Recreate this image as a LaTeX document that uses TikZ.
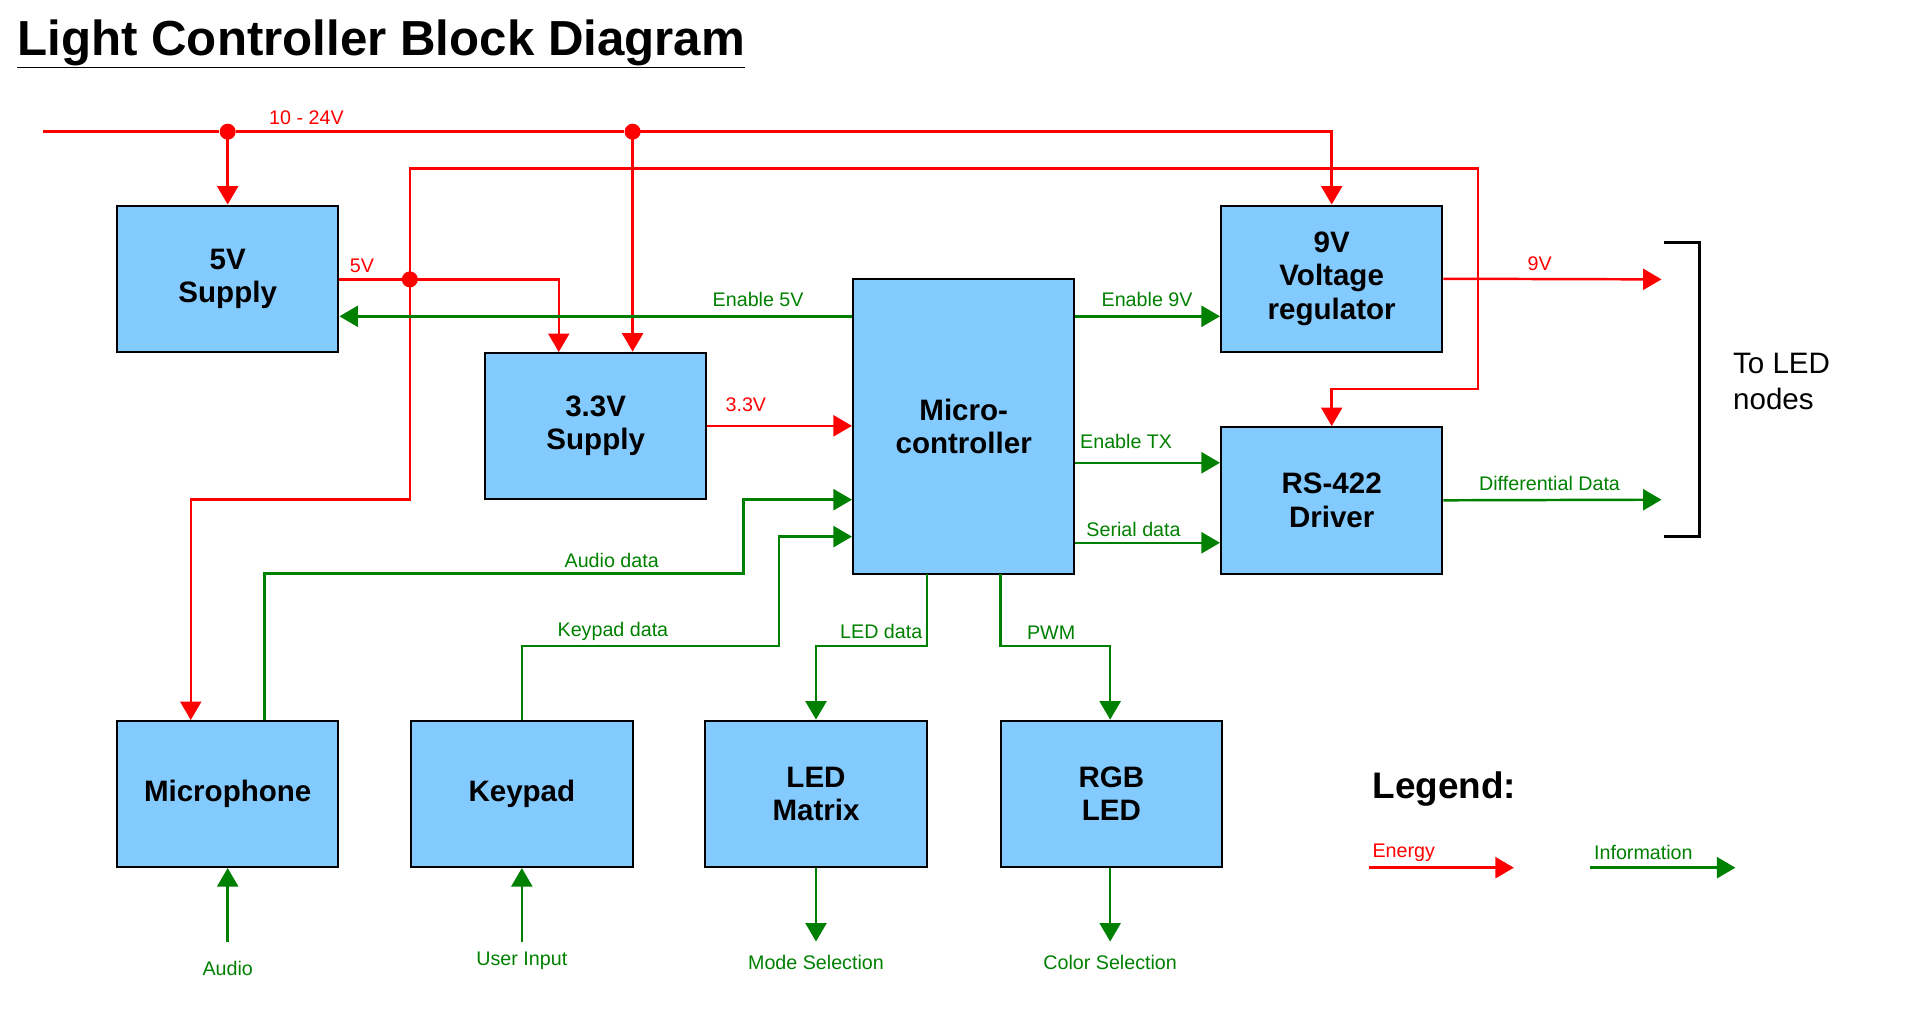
\documentclass[tikz,border=0pt]{standalone}
\usepackage{fontspec}
\setmainfont{Liberation Sans}
\usetikzlibrary{arrows.meta}
\definecolor{boxblue}{HTML}{83CAFF}
\definecolor{grn}{HTML}{008000}
\begin{document}
\begin{tikzpicture}[x=1pt,y=-1pt,
  blk/.style={draw=black,line width=1.6pt,fill=boxblue,minimum width=180pt,minimum height=119pt,inner sep=0pt,align=center,font=\fontsize{24}{27}\selectfont\bfseries},
  en/.style={draw=red,line width=2pt,-{Triangle[length=15pt,width=17pt]}},
  enl/.style={draw=red,line width=2pt},
  inf/.style={draw=grn,line width=2pt,-{Triangle[length=15pt,width=17pt]}},
  infl/.style={draw=grn,line width=2pt},
  rl/.style={text=red,font=\fontsize{16}{18}\selectfont,inner sep=1pt},
  gl/.style={text=grn,font=\fontsize{16}{18}\selectfont,inner sep=1pt},
  dot/.style={circle,fill=red,minimum size=13pt,inner sep=0pt}]
\useasboundingbox (0,0) rectangle (1560,821);
\node[anchor=base west,inner sep=0pt,font=\fontsize{40}{44}\selectfont\bfseries] (title) at (14,45) {\underline{Light Controller Block Diagram}};
% blocks
\node[blk] (s5) at (185,226.5) {5V\\Supply};
\node[blk] (s33) at (484,346) {3.3V\\Supply};
\node[blk,minimum height=239pt] (mc) at (783,346.5) {Micro-\\controller};
\node[blk] (v9) at (1082,226.5) {9V\\Voltage\\regulator};
\node[blk] (rs) at (1082,406.5) {RS-422\\Driver};
\node[blk] (mic) at (185,645) {Microphone};
\node[blk] (kp) at (424,645) {Keypad};
\node[blk] (lm) at (663,645) {LED\\Matrix};
\node[blk] (rgb) at (903,645) {RGB\\LED};
% coordinates
\coordinate (in) at (35,107);
\node[dot] (d1) at (185,107) {};
\node[dot] (d2) at (514,107) {};
\node[dot] (d3) at (333,227) {};
\coordinate (o9) at (1350,227);
\coordinate (odd) at (1350,406);
\coordinate (aud) at (185,765);
\coordinate (ui) at (424,765);
\coordinate (ms) at (663,765);
\coordinate (cs) at (902,765);
% energy
\draw[enl] (in) -- (d1) -- (d2);
\draw[en] (d2.center) -| (v9.north);
\draw[en] (d1.center) -- (s5.north);
\draw[en] (d2.center) -- (s33.north -| d2);
\draw[enl] (s5.east |- d3) -- (d3);
\draw[en] (d3.center) -| (454,286);
\draw[en] (d3.center) -- (333,137) -- (1201,137) -- (1201,316) -- (1082,316) -- (rs.north);
\draw[en] (d3.center) -- (333,406) -- (155,406) -- (155,585);
\draw[en] (s33.east |- 0,346) -- (mc.west |- 0,346);
\draw[en] (v9.east) -- (o9);
\node[rl] at (249,96) {10 - 24V};
\node[rl] at (294,216) {5V};
\node[rl] at (606,329) {3.3V};
\node[rl] at (1251,214) {9V};
% information
\draw[inf] (mc.west |- 0,257) -- (s5.east |- 0,257);
\draw[inf] (mc.east |- 0,257) -- (v9.west |- 0,257);
\draw[inf] (mc.east |- 0,376) -- (rs.west |- 0,376);
\draw[inf] (mc.east |- 0,441) -- (rs.west |- 0,441);
\draw[inf] (rs.east) -- (odd);
\draw[inf] (215,585) -- (215,466) -- (604,466) -- (604,406) -- (mc.west |- 0,406);
\draw[inf] (kp.north) -- (424,525) -- (633,525) -- (633,436) -- (mc.west |- 0,436);
\draw[inf] (753,466) -- (753,525) -- (663,525) -- (lm.north);
\draw[inf] (813,466) -- (813,525) -- (902,525) -- (rgb.north -| 902,0);
\draw[inf] (aud) -- (mic.south);
\draw[inf] (ui) -- (kp.south);
\draw[inf] (lm.south) -- (ms);
\draw[inf] (rgb.south -| 902,0) -- (cs);
\node[gl] at (616,243) {Enable 5V};
\node[gl] at (932,243) {Enable 9V};
\node[gl] at (915,359) {Enable TX};
\node[gl] at (921,430) {Serial data};
\node[gl] at (1259,393) {Differential Data};
\node[gl] at (497,455) {Audio data};
\node[gl] at (498,513) {Keypad data};
\node[gl] at (716,513) {LED data};
\node[gl] at (854,514) {PWM};
\node[gl] at (185,787) {Audio};
\node[gl] at (424,781) {User Input};
\node[gl] at (663,782) {Mode Selection};
\node[gl] at (902,782) {Color Selection};
% bracket
\coordinate (b1) at (1352,197);
\coordinate (b2) at (1352,436);
\draw[black,line width=2pt] (b1) -- (1381,197) -- (1381,436) -- (b2);
\node[anchor=west,align=left,inner sep=0pt,font=\fontsize{24}{29}\selectfont] (led) at (1408,310) {To LED\\nodes};
% legend
\node[anchor=base west,inner sep=0pt,font=\fontsize{30}{34}\selectfont\bfseries] (leg) at (1115,649) {Legend:};
\coordinate (e1) at (1112,705); \coordinate (e2) at (1230,705);
\coordinate (i1) at (1292,705); \coordinate (i2) at (1410,705);
\draw[en] (e1) -- (e2);
\draw[inf] (i1) -- (i2);
\node[rl,anchor=west] at (1114,693) {Energy};
\node[gl,anchor=west] at (1294,693) {Information};
\end{tikzpicture}
\end{document}
